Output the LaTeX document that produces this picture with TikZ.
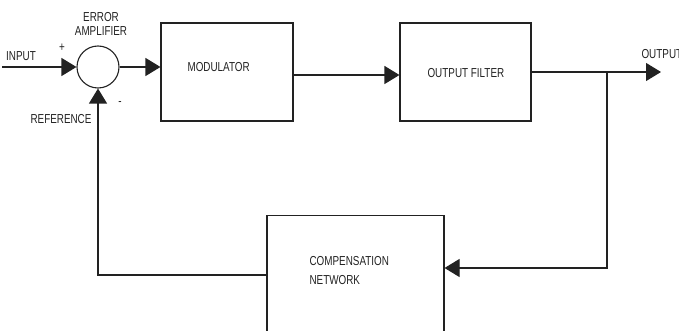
\documentclass[tikz,border=0pt]{standalone}
\usepackage{fontspec}
\setmainfont{Liberation Sans}[FakeStretch=0.76]
\usepackage{xcolor}
\definecolor{ink}{HTML}{222222}
\usetikzlibrary{positioning,calc,arrows.meta}

\begin{document}
\begin{tikzpicture}[x=1pt,y=-1pt,font=\fontsize{13}{19}\selectfont,
  line width=1.1pt,draw=ink,text=ink,
  block/.style={draw,minimum width=132pt,minimum height=98pt,inner sep=0pt},
  feed/.style={-{Triangle[length=15pt,width=18pt]}},
  lbl/.style={inner sep=0pt}]
  \clip (0,0) rectangle (679,331);
  % blocks
  \node[circle,draw,minimum size=42pt,inner sep=0pt] (sum) at (98,67) {};
  \node[block] (mod) at (227,72) {};
  \node[block,minimum width=131pt] (filt) at (465.5,72) {};
  \node[block,minimum width=177pt,minimum height=140pt,anchor=north] (comp) at (355.5,215) {};
  % block texts
  \node[lbl,anchor=west] (modtxt) at (187,67) {MODULATOR};
  \node[lbl,anchor=west] (filttxt) at (427,73) {OUTPUT FILTER};
  \node[lbl,anchor=west,align=left] (comptxt) at (309,271) {COMPENSATION\\NETWORK};
  \node[lbl,align=center,font=\fontsize{13}{14}\selectfont] (amptxt) at (101,24) {ERROR\\AMPLIFIER};
  \node[lbl] (intxt) at (21,56) {INPUT};
  \node[lbl] (reftxt) at (61,119) {REFERENCE};
  \node[lbl,anchor=west] (outtxt) at (641,54) {OUTPUT};
  \node[lbl] (plus) at (62,48) {+};
  \node[lbl] (minus) at (120,104) {-};
  % connectors
  \coordinate (in) at (2,67);
  \coordinate (out) at (661,72);
  \coordinate (tap) at (607,72);
  \draw[feed] (in) -- (sum.west);
  \draw[feed] (sum.east) -- (sum.east -| mod.west);
  \draw[feed] ($(mod.east)+(0,3)$) -- ($(filt.west)+(0,3)$);
  \draw[feed] (filt.east) -- (out);
  \draw[feed] (tap) |- ($(comp.north east)+(0,53)$);
  \draw[feed] ($(comp.north west)+(0,60)$) -| (sum.south);
\end{tikzpicture}
\end{document}
